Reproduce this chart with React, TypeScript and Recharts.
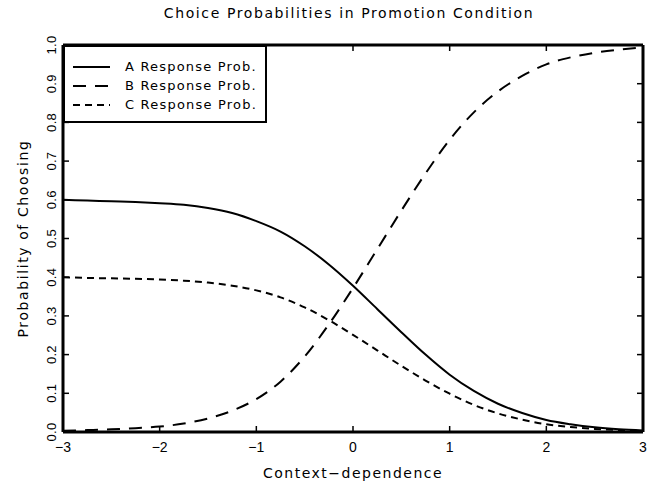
import { Label, Legend, Line, LineChart, XAxis, YAxis } from 'recharts'

const X_VALUES = [
  -3, -2.75, -2.5, -2.25, -2, -1.75, -1.5, -1.25, -1, -0.75, -0.5, -0.25, 0,
  0.25, 0.5, 0.75, 1, 1.25, 1.5, 1.75, 2, 2.25, 2.5, 2.75, 3,
]
const A_PROB = [
  0.6, 0.598, 0.596, 0.594, 0.591, 0.587, 0.579, 0.566, 0.545, 0.518, 0.48, 0.433, 0.378,
  0.318, 0.258, 0.2, 0.148, 0.106, 0.073, 0.049, 0.031, 0.02, 0.012, 0.007, 0.004,
]
const B_PROB = [
  0.003, 0.005, 0.007, 0.01, 0.014, 0.022, 0.035, 0.055, 0.085, 0.13, 0.195, 0.278, 0.372,
  0.472, 0.572, 0.668, 0.755, 0.826, 0.88, 0.92, 0.95, 0.968, 0.98, 0.988, 0.994,
]
const C_PROB = [
  0.4, 0.398, 0.397, 0.396, 0.394, 0.391, 0.386, 0.378, 0.366, 0.348, 0.322, 0.289, 0.251,
  0.211, 0.171, 0.133, 0.099, 0.07, 0.048, 0.032, 0.02, 0.013, 0.008, 0.005, 0.003,
]

const X_TICKS = [-3, -2, -1, 0, 1, 2, 3]
const Y_TICKS = [
  0, 0.05, 0.1, 0.15, 0.2, 0.25, 0.3, 0.35, 0.4, 0.45, 0.5,
  0.55, 0.6, 0.65, 0.7, 0.75, 0.8, 0.85, 0.9, 0.95, 1,
]

const SERIES = [
  { key: 'a', name: 'A Response Prob.', dash: undefined as string | undefined },
  { key: 'b', name: 'B Response Prob.', dash: '13 9' },
  { key: 'c', name: 'C Response Prob.', dash: '7 5' },
]

const data = X_VALUES.map((x, i) => ({ x, a: A_PROB[i], b: B_PROB[i], c: C_PROB[i] }))

const FONT = '"DejaVu Sans", sans-serif'
const TICK_FONT = '"Liberation Sans", Arial, sans-serif'
const AXIS_LINE = { stroke: '#000', strokeWidth: 3 }
const TICK_LINE = { stroke: '#000', strokeWidth: 1.5 }

const NoTick = () => <g />

// eslint-disable-next-line @typescript-eslint/no-explicit-any
function XTick({ x, y, payload }: any) {
  return (
    <text x={x} y={y} dy={10} textAnchor="middle" fontSize={14} fontFamily={TICK_FONT} fill="#000">
      {String(payload.value).replace('-', '\u2212')}
    </text>
  )
}

// eslint-disable-next-line @typescript-eslint/no-explicit-any
function YTick({ x, y, payload }: any) {
  const v = Number(payload.value)
  // labels only every 0.1, the 0.05 ticks are bare marks
  if (Math.round(v * 100) % 10 !== 0) return <g />
  return (
    <text
      x={x}
      y={y}
      transform={`rotate(-90 ${x} ${y})`}
      textAnchor="middle"
      fontSize={13}
      fontFamily={TICK_FONT}
      fill="#000"
      letterSpacing={0.3}
    >
      {v.toFixed(1)}
    </text>
  )
}

function LegendBox() {
  return (
    <div
      style={{
        width: 200,
        border: '2px solid #000',
        background: '#fff',
        padding: '10px 0 7px 0',
        fontFamily: FONT,
        fontSize: 13,
        letterSpacing: 1.2,
      }}
    >
      {SERIES.map((s) => (
        <div key={s.key} style={{ height: 19, display: 'flex', alignItems: 'center' }}>
          <svg width={37} height={6} style={{ marginLeft: 8, marginRight: 15 }}>
            <line x1={0} y1={3} x2={37} y2={3} stroke="#000" strokeWidth={2} strokeDasharray={s.dash} />
          </svg>
          <span>{s.name}</span>
        </div>
      ))}
    </div>
  )
}

export default function App() {
  return (
    <div style={{ position: 'absolute', left: 0, top: 0, width: 659, height: 488, background: '#fff' }}>
      <div
        style={{
          position: 'absolute',
          left: 0,
          top: 5,
          width: 698,
          textAlign: 'center',
          fontFamily: FONT,
          fontSize: 14,
          letterSpacing: 1.6,
          color: '#000',
        }}
      >
        Choice Probabilities in Promotion Condition
      </div>
      <LineChart width={659} height={488} data={data} margin={{ top: 44, right: 15, bottom: 0, left: 0 }}>
        <XAxis
          dataKey="x"
          type="number"
          domain={[-3, 3]}
          ticks={X_TICKS}
          tickSize={-6}
          tickMargin={16}
          tickLine={TICK_LINE}
          tick={<XTick />}
          axisLine={AXIS_LINE}
          height={56}
        >
          <Label
            // eslint-disable-next-line @typescript-eslint/no-explicit-any
            content={({ viewBox }: any) => (
              <text
                x={viewBox.x + viewBox.width / 2}
                y={viewBox.y + 46}
                textAnchor="middle"
                fontSize={14}
                fontFamily={FONT}
                letterSpacing={1.5}
                fill="#000"
              >
                Context{'\u2212'}dependence
              </text>
            )}
          />
        </XAxis>
        <XAxis
          xAxisId="top"
          dataKey="x"
          type="number"
          domain={[-3, 3]}
          ticks={X_TICKS}
          orientation="top"
          tick={NoTick}
          tickSize={-6}
          tickLine={TICK_LINE}
          axisLine={AXIS_LINE}
          height={1}
        />
        <YAxis
          type="number"
          domain={[0, 1]}
          ticks={Y_TICKS}
          tickSize={-6}
          tickMargin={13}
          tickLine={TICK_LINE}
          tick={<YTick />}
          axisLine={AXIS_LINE}
          width={63}
        >
          <Label
            // eslint-disable-next-line @typescript-eslint/no-explicit-any
            content={({ viewBox }: any) => {
              const cx = 28
              const cy = viewBox.y + viewBox.height / 2
              return (
                <text
                  x={cx}
                  y={cy}
                  transform={`rotate(-90 ${cx} ${cy})`}
                  textAnchor="middle"
                  fontSize={14}
                  fontFamily={FONT}
                  letterSpacing={1.6}
                  fill="#000"
                >
                  Probability of Choosing
                </text>
              )
            }}
          />
        </YAxis>
        <YAxis
          yAxisId="right"
          type="number"
          domain={[0, 1]}
          ticks={Y_TICKS}
          orientation="right"
          tick={NoTick}
          tickSize={-6}
          tickLine={TICK_LINE}
          axisLine={AXIS_LINE}
          width={1}
        />
        <Legend
          layout="vertical"
          align="center"
          verticalAlign="middle"
          content={<LegendBox />}
          wrapperStyle={{ left: 63, top: 45, width: 'auto' }}
        />
        {/* invisible copy so the top/right frame axes get their own scales */}
        <Line
          xAxisId="top"
          yAxisId="right"
          dataKey="a"
          stroke="none"
          dot={false}
          activeDot={false}
          legendType="none"
          isAnimationActive={false}
        />
        {SERIES.map((s) => (
          <Line
            key={s.key}
            dataKey={s.key}
            name={s.name}
            type="monotone"
            stroke="#000"
            strokeWidth={2}
            strokeDasharray={s.dash}
            dot={false}
            activeDot={false}
            isAnimationActive={false}
          />
        ))}
      </LineChart>
    </div>
  )
}
